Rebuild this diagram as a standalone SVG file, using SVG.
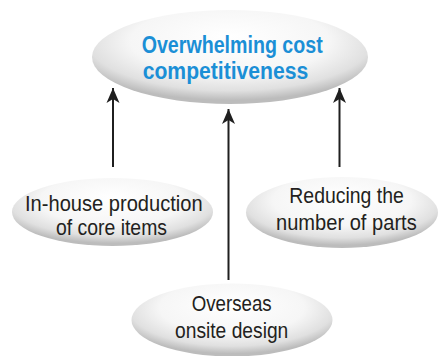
<svg xmlns="http://www.w3.org/2000/svg" width="438" height="356" viewBox="0 0 438 356">
<defs>
<radialGradient id="pill" cx="50%" cy="36%" r="60%" fx="50%" fy="28%">
<stop offset="0" stop-color="#ffffff"/>
<stop offset="0.6" stop-color="#f6f6f6"/>
<stop offset="0.85" stop-color="#e0e0e0"/>
<stop offset="1" stop-color="#bcbcbc"/>
</radialGradient>
<marker id="arr" markerUnits="userSpaceOnUse" markerWidth="18" markerHeight="16" viewBox="-16 -8 18 16" refX="0" refY="0" orient="auto">
<path d="M0,0 L-15,-6.5 L-11,0 L-15,6.5 Z" fill="#1f1f1f"/>
</marker>
</defs>
<style>
.pill{fill:url(#pill);}
.t{font-family:"Liberation Sans",Arial,sans-serif;font-size:22.5px;fill:#231f20;}
.h{font-family:"Liberation Sans",Arial,sans-serif;font-size:23.5px;font-weight:bold;fill:#1b8fd6;}
.c{stroke:#1f1f1f;stroke-width:2;fill:none;marker-end:url(#arr);}
</style>
<g id="connectors">
<line class="c" x1="113" y1="167" x2="113" y2="88"/>
<line class="c" x1="228.5" y1="280" x2="228.5" y2="109"/>
<line class="c" x1="339.5" y1="167" x2="339.5" y2="88"/>
</g>
<g id="node-top">
<ellipse class="pill" cx="230" cy="57" rx="138" ry="47"/>
<text class="h" x="141.7" y="53.3" textLength="181" lengthAdjust="spacingAndGlyphs">Overwhelming cost</text>
<text class="h" x="142.7" y="78.5" textLength="165.6" lengthAdjust="spacingAndGlyphs">competitiveness</text>
</g>
<g id="node-left">
<ellipse class="pill" cx="112.5" cy="212" rx="100.5" ry="34"/>
<text class="t" x="25" y="210.5" textLength="177.7" lengthAdjust="spacingAndGlyphs">In-house production</text>
<text class="t" x="56" y="234.5" textLength="111" lengthAdjust="spacingAndGlyphs">of core items</text>
</g>
<g id="node-right">
<ellipse class="pill" cx="342" cy="212.5" rx="96" ry="35.5"/>
<text class="t" x="289.3" y="202.7" textLength="114.5" lengthAdjust="spacingAndGlyphs">Reducing the</text>
<text class="t" x="276" y="229.8" textLength="140.7" lengthAdjust="spacingAndGlyphs">number of parts</text>
</g>
<g id="node-bottom">
<ellipse class="pill" cx="232" cy="320" rx="100.5" ry="36.5"/>
<text class="t" x="191.7" y="311.3" textLength="80" lengthAdjust="spacingAndGlyphs">Overseas</text>
<text class="t" x="175" y="338" textLength="113.3" lengthAdjust="spacingAndGlyphs">onsite design</text>
</g>
</svg>
